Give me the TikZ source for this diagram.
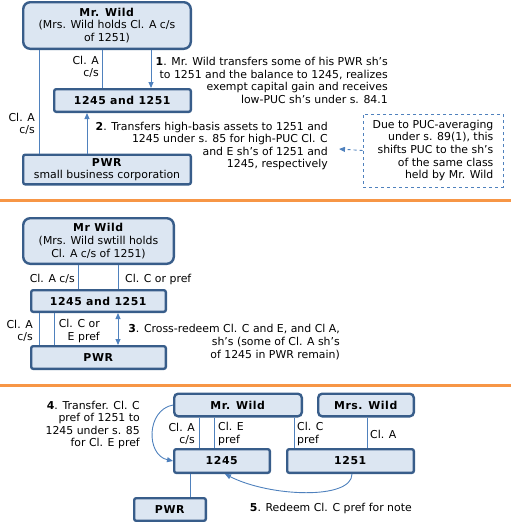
\documentclass[tikz,border=0pt]{standalone}
\usepackage{fontspec}
\setmainfont{DejaVu Sans}[BoldFeatures={LetterSpace=5}]
\usetikzlibrary{arrows.meta}
\definecolor{boxfill}{HTML}{DCE6F2}
\definecolor{boxline}{HTML}{385D8A}
\definecolor{conn}{HTML}{4F81BD}
\definecolor{orng}{HTML}{F79646}
\begin{document}
\begin{tikzpicture}[x=1pt,y=-1pt,
  every node/.style={font=\fontsize{10.9}{12.6}\selectfont, inner sep=0pt},
  box/.style={draw=boxline, fill=boxfill, line width=2.4pt, rounded corners=2pt, align=center},
  rbox/.style={box, rounded corners=7pt},
  sbox/.style={box, rounded corners=4pt},
  conline/.style={draw=conn, line width=0.9pt},
  arr/.style={conline, -{Triangle[length=6pt,width=5pt]}},
  darr/.style={conline, {Triangle[length=6pt,width=5pt]}-{Triangle[length=6pt,width=5pt]}},
  lblr/.style={align=right, anchor=east},
  lbll/.style={align=left, anchor=west},
  sep/.style={draw=orng, line width=3pt}
]
\useasboundingbox (0,0) rectangle (511,522);

% ---------- top section ----------
\node[rbox, minimum width=167.6pt, minimum height=46.6pt] (mw1) at (107,25.5)
  {\textbf{Mr. Wild}\\(Mrs. Wild holds Cl. A c/s\\of 1251)};
\node[box, minimum width=136.6pt, minimum height=22.6pt] (b1) at (122.5,100.5) {\textbf{1245 and 1251}};
\node[box, minimum width=167.6pt, minimum height=29.6pt] (p1) at (107,169.5)
  {\textbf{PWR}\\small business corporation};

\draw[conline] (mw1.south -| 39,0) -- (p1.north -| 39,0);
\draw[conline] (mw1.south -| 102,0) -- (b1.north -| 102,0);
\draw[arr] (mw1.south -| 151,0) -- (b1.north -| 151,0);
\draw[arr] (p1.north -| 87,0) -- (b1.south -| 87,0);

\node[lblr] (l1a) at (35,124) {Cl. A\\c/s};
\node[lblr] (l1b) at (99,67) {Cl. A\\c/s};

\node[lblr] (t1) at (388,80.5) {\textbf{1}. Mr. Wild transfers some of his PWR sh’s\\to 1251 and the balance to 1245, realizes\\exempt capital gain and receives\\low-PUC sh’s under s. 84.1};
\node[lblr] (t2) at (328,146) {\textbf{2}. Transfers high-basis assets to 1251 and\\1245 under s. 85 for high-PUC Cl. C\\and E sh’s of 1251 and\\1245, respectively};

\node[draw=conn, dashed, line width=0.8pt, minimum width=140pt, minimum height=73pt, align=right] (db) at (433,150.5)
  {Due to PUC-averaging\\under s. 89(1), this\\shifts PUC to the sh’s\\of the same class\\held by Mr. Wild};
\coordinate (dt) at (339,149);
\draw[arr, dashed] (db.west) -- (dt);

\draw[sep] (0,200.7) -- (511,200.7);

% ---------- middle section ----------
\node[rbox, minimum width=150.6pt, minimum height=45.6pt] (mw2) at (98.5,241)
  {\textbf{Mr Wild}\\(Mrs. Wild swtill holds\\Cl. A c/s of 1251)};
\node[box, minimum width=134.6pt, minimum height=21.6pt] (b2) at (98.5,301) {\textbf{1245 and 1251}};
\node[box, minimum width=134.6pt, minimum height=22.6pt] (p2) at (98.5,357.5) {\textbf{PWR}};

\draw[conline] (mw2.south -| 78,0) -- (b2.north -| 78,0);
\draw[conline] (mw2.south -| 118,0) -- (b2.north -| 118,0);
\draw[conline] (b2.south -| 39,0) -- (p2.north -| 39,0);
\draw[conline] (b2.south -| 54,0) -- (p2.north -| 54,0);
\draw[darr] (b2.south -| 118,0) -- (p2.north -| 118,0);

\node[lblr] (l2a) at (75,279) {Cl. A c/s};
\node[lbll] (l2b) at (125,279) {Cl. C or pref};
\node[lblr] (l2c) at (33,331) {Cl. A\\c/s};
\node[lblr] (l2d) at (100,331) {Cl. C or\\E pref};

\node[lblr] (t3) at (340,342) {\textbf{3}. Cross-redeem Cl. C and E, and Cl A,\\sh’s (some of Cl. A sh’s\\of 1245 in PWR remain)};

\draw[sep] (0,385) -- (511,385);

% ---------- bottom section ----------
\node[sbox, minimum width=127.6pt, minimum height=22.6pt] (mw3) at (238,405) {\textbf{Mr. Wild}};
\node[sbox, minimum width=95.6pt, minimum height=22.6pt] (mrs) at (366,405) {\textbf{Mrs. Wild}};
\node[box, minimum width=95.6pt, minimum height=23.6pt] (c45) at (222,461) {\textbf{1245}};
\node[box, minimum width=126.6pt, minimum height=23.6pt] (c51) at (350.5,461) {\textbf{1251}};
\node[box, minimum width=71.6pt, minimum height=22.6pt] (p3) at (170,509.5) {\textbf{PWR}};

\draw[conline] (mw3.south -| 199,0) -- (c45.north -| 199,0);
\draw[conline] (mw3.south -| 214,0) -- (c45.north -| 214,0);
\draw[conline] (mw3.south -| 294,0) -- (c51.north -| 294,0);
\draw[conline] (mrs.south -| 367,0) -- (c51.north -| 367,0);
\draw[conline] (c45.south -| 190,0) -- (p3.north -| 190,0);

\node[lblr] (l3a) at (195,434) {Cl. A\\c/s};
\node[lbll] (l3b) at (218,434) {Cl. E\\pref};
\node[lbll] (l3c) at (297,434) {Cl. C\\pref};
\node[lbll] (l3d) at (370,434) {Cl. A};

\draw[arr] (mw3.west) .. controls (146,410) and (146,455) .. (c45.west);
\draw[arr] (c51.south -| 352,0) .. controls (352,500) and (270,497) .. (c45.south -| 225,0);

\node[lblr] (t4) at (140,425) {\textbf{4}. Transfer. Cl. C\\pref of 1251 to\\1245 under s. 85\\for Cl. E pref};
\node[lblr] (t5) at (412,508) {\textbf{5}. Redeem Cl. C pref for note};
\end{tikzpicture}
\end{document}
